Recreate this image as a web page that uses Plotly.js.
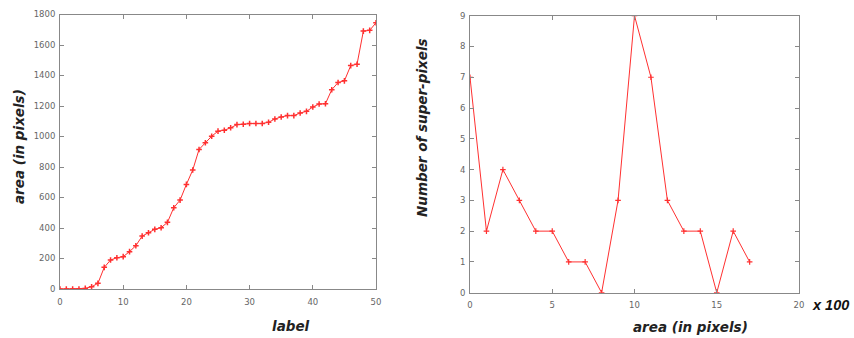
<!DOCTYPE html>
<html>
<head>
<meta charset="utf-8">
<script src="https://cdn.plot.ly/plotly-3.0.1.min.js"></script>
<style>html,body{margin:0;padding:0;background:#fff;}#chart{width:854px;height:338px;}</style>
</head>
<body>
<div id="chart"></div>
<script>
// Left panel: area per label (sorted)
const labels = [0,1,2,3,4,5,6,7,8,9,10,11,12,13,14,15,16,17,18,19,20,21,22,23,24,25,26,27,28,29,30,31,32,33,34,35,36,37,38,39,40,41,42,43,44,45,46,47,48,49,50];
const areas = [0,0,0,0,4,15,37,142,190,205,212,245,284,347,369,391,402,437,533,583,686,780,915,959,1002,1035,1041,1057,1078,1080,1085,1085,1085,1093,1115,1128,1137,1137,1154,1165,1193,1213,1215,1307,1354,1365,1465,1474,1691,1696,1746];
// Right panel: number of super-pixels per area bin (x 100 pixels)
const areaBins = [0,1,2,3,4,5,6,7,8,9,10,11,12,13,14,15,16,17];
const counts = [7,2,4,3,2,2,1,1,0,3,9,7,3,2,2,0,2,1];
// Tick labels
const leftXTicks = [0,10,20,30,40,50];
const rightXTicks = [0,5,10,15,20];

const red = '#ff3030';
const tickFont = {family: 'DejaVu Sans, sans-serif', size: 8.5, color: '#666'};
const titleFont = {family: 'DejaVu Sans, sans-serif', size: 13.5, color: '#222', weight: 'bold', style: 'italic'};

function axisBase(extra) {
  return Object.assign({
    showgrid: false, zeroline: false, showline: true, linecolor: '#888', linewidth: 1,
    mirror: 'allticks', ticks: 'inside', ticklen: 4, tickcolor: '#888', tickwidth: 1,
    tickfont: tickFont, fixedrange: true
  }, extra);
}

const traces = [
  {x: labels, y: areas, type: 'scatter', mode: 'lines+markers', xaxis: 'x', yaxis: 'y',
   line: {color: red, width: 1}, marker: {symbol: 'cross-thin-open', size: 4, line: {color: red, width: 1.5}, color: red}},
  {x: areaBins, y: counts, type: 'scatter', mode: 'lines+markers', xaxis: 'x2', yaxis: 'y2',
   line: {color: red, width: 1}, marker: {symbol: 'cross-thin-open', size: 4, line: {color: red, width: 1.2}, color: red}}
];

function ann(text, x, y, angle, extra) {
  return Object.assign({text: text, xref: 'paper', yref: 'paper', x: x/854, y: 1 - y/338,
    xanchor: 'center', yanchor: 'middle', textangle: angle, showarrow: false, font: titleFont}, extra || {});
}

const layout = {
  width: 854, height: 338,
  margin: {l: 0, r: 0, t: 0, b: 0},
  paper_bgcolor: '#fff', plot_bgcolor: '#fff',
  showlegend: false,
  xaxis: axisBase({domain: [60/854, 376/854], range: [0, 50], tickvals: leftXTicks, anchor: 'y', ticklabelstandoff: 5}),
  yaxis: axisBase({domain: [1-289/338, 1-14.5/338], range: [0, 1800], dtick: 200, anchor: 'x', ticklabelstandoff: 2}),
  xaxis2: axisBase({domain: [470/854, 799/854], range: [0, 20], tickvals: rightXTicks, anchor: 'y2', ticklabelstandoff: 4}),
  yaxis2: axisBase({domain: [1-292.7/338, 1-15.7/338], range: [0, 9], dtick: 1, anchor: 'x2', ticklabelstandoff: 2}),
  annotations: [
    ann('area (in pixels)', 19, 147, -90),
    ann('label', 291, 326, 0),
    ann('Number of super-pixels', 422, 128, -90),
    ann('area (in pixels)', 690, 327, 0),
    ann('x 100', 851, 305, 0, {xanchor: 'right',
      font: {family: 'Liberation Sans, Arial, sans-serif', size: 14.5, color: '#111', weight: 'bold', style: 'italic'}})
  ]
};

Plotly.newPlot('chart', traces, layout, {displayModeBar: false, staticPlot: true});
</script>
</body>
</html>
